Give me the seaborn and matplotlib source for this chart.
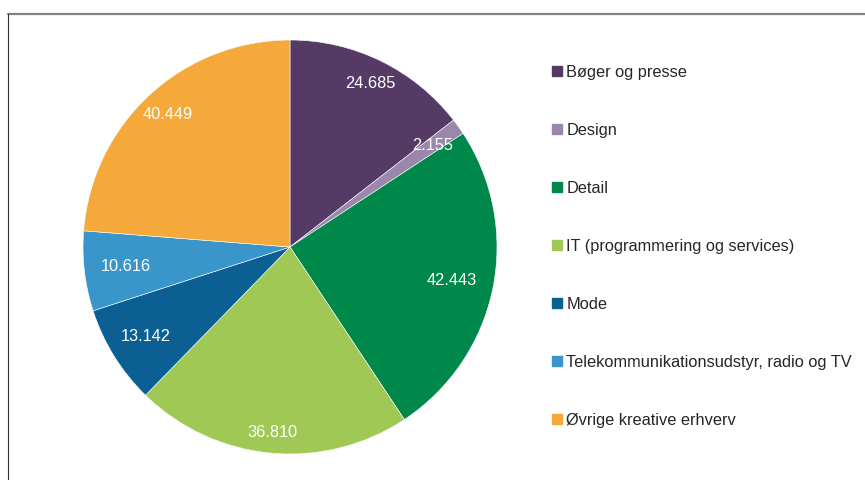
import matplotlib
matplotlib.use("Agg")
import matplotlib.pyplot as plt
import seaborn as sns
import numpy as np
from matplotlib.lines import Line2D

sns.set_theme(style="white")
plt.rcParams['font.family'] = ['Liberation Sans', 'DejaVu Sans']

categories = ["Bøger og presse", "Design", "Detail", "IT (programmering og services)",
              "Mode", "Telekommunikationsudstyr, radio og TV", "Øvrige kreative erhverv"]
values = [24.685, 2.155, 42.443, 36.810, 13.142, 10.616, 40.449]
value_labels = ["24.685", "2.155", "42.443", "36.810", "13.142", "10.616", "40.449"]
colors = ["#553A66", "#9A87AB", "#00874A", "#A0C855", "#0B5F92", "#3A95CB", "#F5A93A"]
label_dist = [0.88, 0.845, 0.80, 0.90, 0.82, 0.80, 0.87]

fig = plt.figure(figsize=(8.65, 4.8), dpi=100)
cx, cy, r = 290, 247, 207
W, H = 865, 480
ax = fig.add_axes([(cx - r) / W, (H - cy - r) / H, 2 * r / W, 2 * r / H])
wedges, _ = ax.pie(values, colors=colors, startangle=90, counterclock=False,
                   radius=1, wedgeprops=dict(edgecolor="white", linewidth=0.4))
ax.set_xlim(-1, 1)
ax.set_ylim(-1, 1)
ax.set_aspect("equal")
ax.axis("off")

for w, lab, d in zip(wedges, value_labels, label_dist):
    ang = np.deg2rad((w.theta1 + w.theta2) / 2)
    ax.text(d * np.cos(ang), d * np.sin(ang), lab, ha="center", va="center",
            color="white", fontsize=11.8)

handles = [Line2D([0], [0], marker="s", linestyle="none", markersize=7,
                  markerfacecolor=c, markeredgecolor=c) for c in colors]
fig.legend(handles, categories, loc="upper left", bbox_to_anchor=(541 / W, 1 - 57 / H),
           frameon=False, fontsize=11.8, labelspacing=2.62, handletextpad=0.05,
           handlelength=1.0, borderpad=0)

# frame lines
fig.add_artist(Line2D([8 / W, 1], [1 - 14 / H, 1 - 14 / H], transform=fig.transFigure,
                      color="#808080", linewidth=1.6))
fig.add_artist(Line2D([8 / W, 8 / W], [0, 1 - 14 / H], transform=fig.transFigure,
                      color="#333333", linewidth=0.8))

fig.savefig("out.png", dpi=100, facecolor="white")
